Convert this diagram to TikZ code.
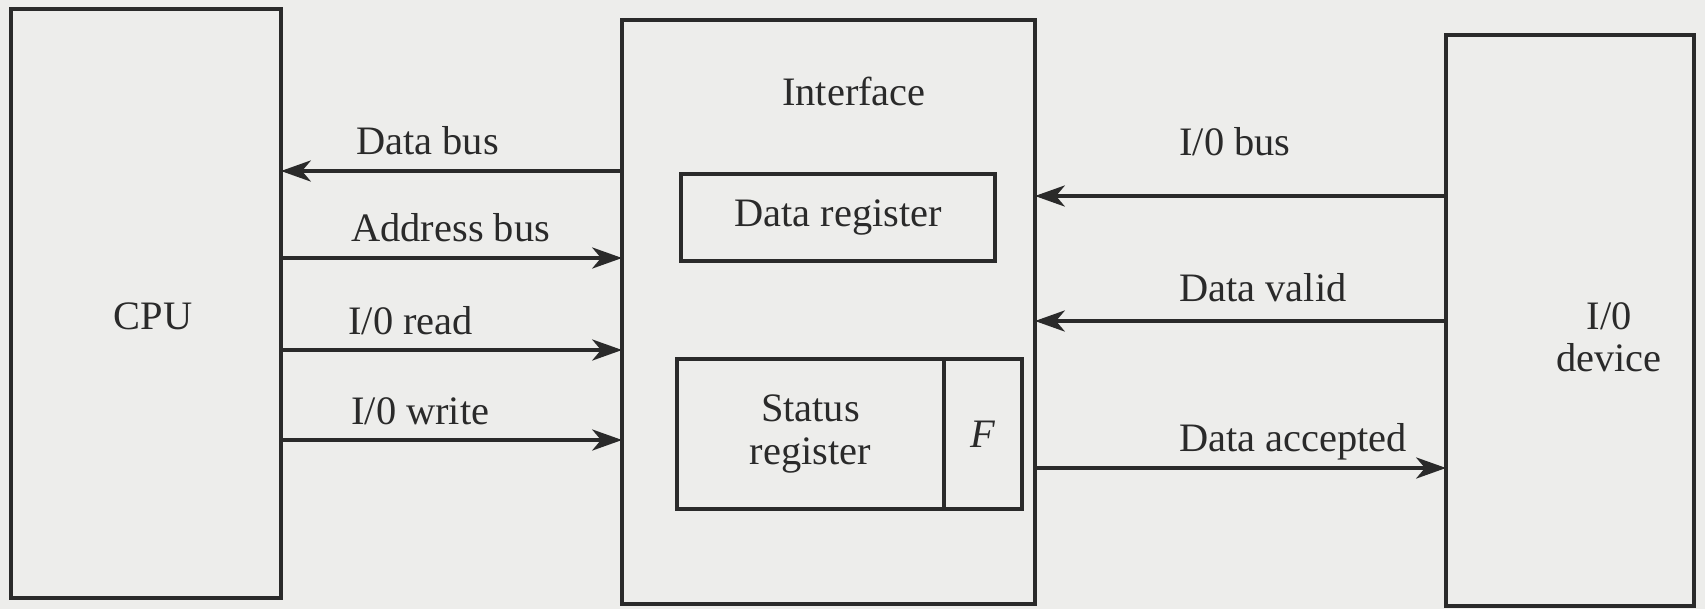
\documentclass[tikz,border=0pt]{standalone}
\usepackage{fontspec}
\setmainfont{Liberation Serif}
\usetikzlibrary{arrows.meta}
\definecolor{ink}{HTML}{2A2A2A}
\definecolor{paper}{HTML}{EDEDEB}
\tikzset{
  box/.style={draw=ink, line width=2pt, rectangle, inner sep=0pt, outer sep=0pt},
  arr/.style={draw=ink, line width=2pt, -{Stealth[length=17pt,width=12pt,inset=5pt]}},
  lbl/.style={text=ink, font=\fontsize{23}{28}\selectfont, inner sep=0pt, anchor=base west},
  txt/.style={text=ink, font=\fontsize{23}{28}\selectfont, inner sep=0pt, align=center}
}
\begin{document}
\begin{tikzpicture}[x=0.02cm, y=-0.02cm]
  % canvas
  \fill[paper] (0,0) rectangle (1705,609);
  \useasboundingbox (0,0) rectangle (1705,609);

  % main blocks
  \node[box, minimum width=5.4cm, minimum height=11.78cm] (cpu) at (146,303.5) {};
  \node[txt] (cputxt) at (153,316) {CPU};
  \node[box, minimum width=8.26cm, minimum height=11.68cm] (ifc) at (828.5,312) {};
  \node[txt, anchor=base] (ifctitle) at (854,105) {Interface};
  \node[box, minimum width=4.96cm, minimum height=11.42cm] (dev) at (1570,320.5) {};
  \node[txt] (devtxt) at (1609,337) {I/0\\[-4pt]device};

  % registers inside the interface
  \node[box, minimum width=6.28cm, minimum height=1.74cm] (dreg) at (838,217.5) {};
  \node[txt] at (dreg.center) {Data register};
  \node[box, minimum width=5.34cm, minimum height=3cm] (sreg) at (810.5,434) {};
  \node[txt] at (sreg.center) {Status\\[-4pt]register};
  \node[box, minimum width=1.56cm, minimum height=3cm, anchor=west] (flag) at (sreg.east) {};
  \node[txt] at (flag.center) {\itshape F};

  % CPU side signals
  \draw[arr] (ifc.west |- 0,171) -- (cpu.east |- 0,171);
  \draw[arr] (cpu.east |- 0,258) -- (ifc.west |- 0,258);
  \draw[arr] (cpu.east |- 0,350) -- (ifc.west |- 0,350);
  \draw[arr] (cpu.east |- 0,440) -- (ifc.west |- 0,440);
  \node[lbl] (l1) at (356,154) {Data bus};
  \node[lbl] (l2) at (351,241) {Address bus};
  \node[lbl] (l3) at (348,334) {I/0 read};
  \node[lbl] (l4) at (351,424) {I/0 write};

  % device side signals
  \draw[arr] (dev.west |- 0,196) -- (ifc.east |- 0,196);
  \draw[arr] (dev.west |- 0,321) -- (ifc.east |- 0,321);
  \draw[arr] (ifc.east |- 0,468) -- (dev.west |- 0,468);
  \node[lbl] (r1) at (1179,155) {I/0 bus};
  \node[lbl] (r2) at (1179,301) {Data valid};
  \node[lbl] (r3) at (1179,451) {Data accepted};
\end{tikzpicture}
\end{document}
